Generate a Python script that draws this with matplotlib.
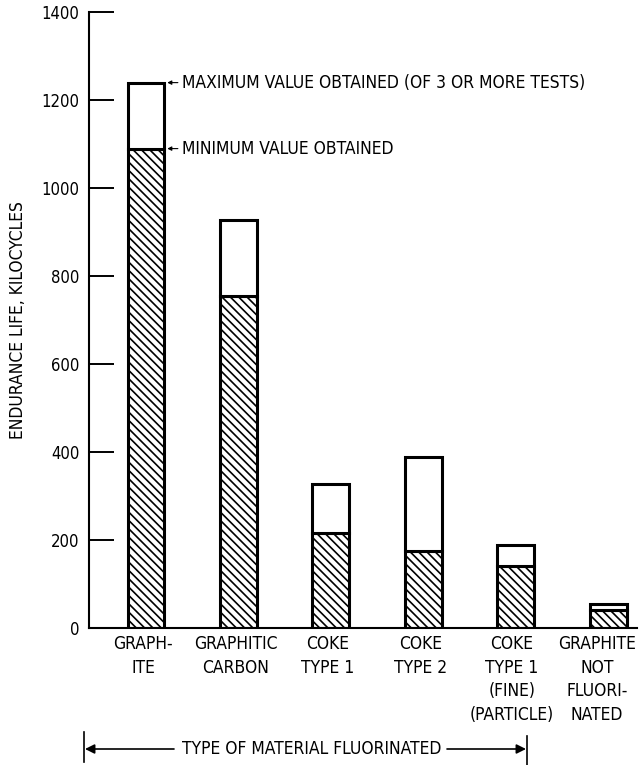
import matplotlib
matplotlib.use('Agg')
import matplotlib.pyplot as plt
from matplotlib.lines import Line2D
from matplotlib.transforms import ScaledTranslation

plt.rcParams['font.family'] = ['DejaVu Sans']
plt.rcParams['font.stretch'] = 'condensed'
plt.rcParams['hatch.linewidth'] = 1.2

# material types along the x axis
materials = ['GRAPH-\nITE', 'GRAPHITIC\nCARBON', 'COKE\nTYPE 1', 'COKE\nTYPE 2',
             'COKE\nTYPE 1\n(FINE)\n(PARTICLE)', 'GRAPHITE\nNOT\nFLUORI-\nNATED']
# endurance life, kilocycles
max_life = [1240, 928, 328, 388, 188, 55]
min_life = [1090, 755, 216, 175, 140, 40]
yticks = [0, 200, 400, 600, 800, 1000, 1200, 1400]

fig = plt.figure(figsize=(6.4, 7.65), dpi=100)
ax = fig.add_axes([0.139, 0.179, 0.856, 0.805])

x = list(range(len(materials)))
w = 0.40
# hatched part = minimum value, open part on top up to maximum
ax.bar(x, min_life, width=w, color='white', edgecolor='black', hatch='\\\\\\\\',
       linewidth=2.2, zorder=2)
upper = [mx - mn for mx, mn in zip(max_life, min_life)]
ax.bar(x, upper, width=w, bottom=min_life, color='white', edgecolor='black',
       linewidth=2.2, zorder=2)

ax.set_xlim(-0.617, 5.31)
ax.set_ylim(0, 1400)
ax.set_yticks(yticks)
ax.tick_params(axis='y', direction='in', length=18, width=1.4, pad=7, labelsize=12)
ax.set_xticks(x)
ax.set_xticklabels(materials, fontsize=12.5, linespacing=1.4)
ax.tick_params(axis='x', length=0, pad=5)
# labels sit a little left of the bar centres in the original (last one more so)
shifts = [-3, -3, -3, -3, -4, -11]
for lab, dx in zip(ax.get_xticklabels(), shifts):
    lab.set_transform(lab.get_transform() + ScaledTranslation(dx / 100, 0, fig.dpi_scale_trans))

for s in ['top', 'right']:
    ax.spines[s].set_visible(False)
ax.spines['left'].set_linewidth(1.5)
ax.spines['bottom'].set_linewidth(1.5)

# annotations on the graphite bar
ax.annotate('MAXIMUM VALUE OBTAINED (OF 3 OR MORE TESTS)', xy=(x[0] + w / 2 + 0.03, max_life[0]),
            xytext=(x[0] + w / 2 + 0.19, max_life[0]), va='center', ha='left', fontsize=12.5,
            arrowprops=dict(arrowstyle='-|>', lw=0.8, color='black', mutation_scale=6,
                            shrinkA=1, shrinkB=0))
ax.annotate('MINIMUM VALUE OBTAINED', xy=(x[0] + w / 2 + 0.03, min_life[0]),
            xytext=(x[0] + w / 2 + 0.19, min_life[0]), va='center', ha='left', fontsize=12.5,
            arrowprops=dict(arrowstyle='-|>', lw=0.8, color='black', mutation_scale=6,
                            shrinkA=1, shrinkB=0))

fig.text(18 / 640, 1 - 320 / 765, 'ENDURANCE LIFE, KILOCYCLES', rotation=90,
         ha='center', va='center', fontsize=12.5)

# bottom dimension arrow
ya = 1 - 749 / 765
fig.text(312 / 640, ya, 'TYPE OF MATERIAL FLUORINATED', ha='center', va='center', fontsize=12.5)
fig.add_artist(Line2D([84 / 640, 84 / 640], [1 - 732 / 765, 1 - 762 / 765], color='black', lw=1.2))
fig.add_artist(Line2D([527 / 640, 527 / 640], [1 - 736 / 765, 1 - 765 / 765], color='black', lw=1.2))
ax.annotate('', xy=(85 / 640, ya), xytext=(174 / 640, ya), xycoords='figure fraction',
            arrowprops=dict(arrowstyle='-|>', lw=1.2, color='black', mutation_scale=14,
                            shrinkA=0, shrinkB=0))
ax.annotate('', xy=(526 / 640, ya), xytext=(447 / 640, ya), xycoords='figure fraction',
            arrowprops=dict(arrowstyle='-|>', lw=1.2, color='black', mutation_scale=14,
                            shrinkA=0, shrinkB=0))

fig.savefig('out.png', dpi=100, facecolor='white')
